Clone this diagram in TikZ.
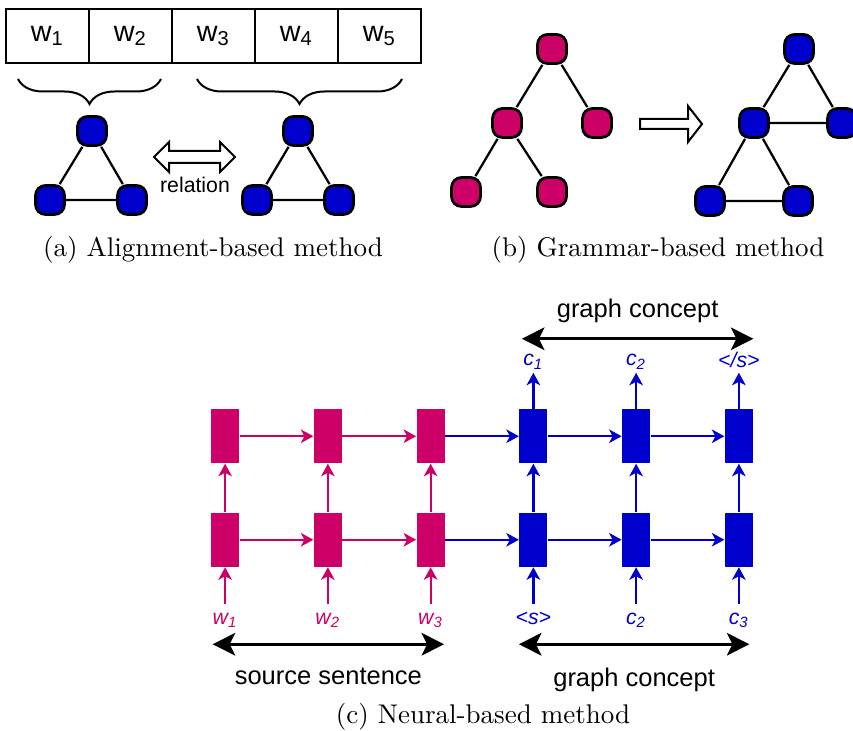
\documentclass[tikz,border=0pt]{standalone}
\usepackage{fontspec}
\newfontfamily\arial{Liberation Sans}
\usetikzlibrary{arrows.meta, positioning, decorations.pathreplacing, calc}
\definecolor{rose}{RGB}{204,0,102}
\definecolor{navy}{RGB}{0,0,204}

\begin{document}
\begin{tikzpicture}[x=0.4pt, y=-0.4pt,
  wbox/.style={rectangle, draw, line width=0.8pt, minimum width=33.2pt, minimum height=21.6pt,
               inner sep=0pt, font=\arial\fontsize{11.5}{12}\selectfont},
  gn/.style={rectangle, rounded corners=4pt, draw, line width=1.1pt, minimum size=11.6pt, inner sep=0pt},
  bn/.style={gn, fill=navy},
  pn/.style={gn, fill=rose},
  gedge/.style={line width=0.9pt},
  brc/.style={decorate, decoration={brace, mirror, amplitude=10pt}, line width=0.8pt},
  hollow/.style={draw, fill=white, line width=0.8pt, line join=miter},
  cell/.style={rectangle, minimum width=11.2pt, minimum height=21.6pt, inner sep=0pt},
  rarr/.style={-{Stealth[length=5pt, width=5.4pt, inset=1.4pt]}, line width=0.9pt},
  spanarr/.style={{Stealth[length=9pt, width=9pt, inset=2.2pt]}-{Stealth[length=9pt, width=9pt, inset=2.2pt]},
               line width=1.2pt},
  lab/.style={font=\arial\itshape\fontsize{8.5}{9}\selectfont, inner sep=0pt},
  txt/.style={font=\arial\fontsize{10.2}{11}\selectfont, inner sep=0pt},
  captext/.style={font=\fontsize{10.8}{13}\selectfont, inner sep=0pt}
]
\useasboundingbox (0,0) rectangle (853,731);

% (a) words, braces and the two small graphs
\matrix[column sep=-0.8pt, nodes={wbox}] (words) at (213.5,36) {
  \node (w1) {w\textsubscript{1}}; & \node (w2) {w\textsubscript{2}}; &
  \node (w3) {w\textsubscript{3}}; & \node (w4) {w\textsubscript{4}}; &
  \node (w5) {w\textsubscript{5}}; \\
};
\draw[brc] ($(w1.south west)+(13,15)$) -- ($(w2.south east)+(-12,15)$);
\draw[brc] ($(w3.south west)+(26,15)$) -- ($(w5.south east)+(-20,15)$);

\node[bn] (ga1) at (92,131) {};
\node[bn] (ga2) at (50,200) {};
\node[bn] (ga3) at (132,200) {};
\node[bn] (ga4) at (298,131) {};
\node[bn] (ga5) at (257,200) {};
\node[bn] (ga6) at (339,200) {};
\draw[gedge] (ga1) -- (ga2) -- (ga3) -- (ga1);
\draw[gedge] (ga4) -- (ga5) -- (ga6) -- (ga4);

\draw[hollow] (154,157) -- (169,142) -- (169,151) -- (220,151) -- (220,142) -- (235,157)
  -- (220,172) -- (220,163) -- (169,163) -- (169,172) -- cycle;
\node[font=\arial\fontsize{8.5}{9}\selectfont, inner sep=0pt] (rel) at (195,185) {relation};
\node[captext] (capa) at (213,250) {(a) Alignment-based method};

% (b) tree turned into a graph
\node[pn] (gp1) at (552,49) {};
\node[pn] (gp2) at (507,123) {};
\node[pn] (gp3) at (597,123) {};
\node[pn] (gp4) at (466,192) {};
\node[pn] (gp5) at (552,192) {};
\draw[gedge] (gp1) -- (gp2) (gp1) -- (gp3) (gp2) -- (gp4) (gp2) -- (gp5);

\draw[hollow] (640,119) -- (688,119) -- (688,106) -- (702,124) -- (688,142) -- (688,129)
  -- (640,129) -- cycle;

\node[bn] (gb1) at (799,49) {};
\node[bn] (gb2) at (754,123) {};
\node[bn] (gb3) at (842,123) {};
\node[bn] (gb4) at (710,201) {};
\node[bn] (gb5) at (798,201) {};
\draw[gedge] (gb1) -- (gb2) -- (gb3) -- (gb1) (gb2) -- (gb4) -- (gb5) -- (gb2);
\node[captext] (capb) at (658,250) {(b) Grammar-based method};

% (c) encoder-decoder
\matrix[row sep=19.8pt, column sep=29.9pt, nodes={cell}] (rnn) at (482,488) {
  \node[fill=rose] (u1) {}; & \node[fill=rose] (u2) {}; & \node[fill=rose] (u3) {}; &
  \node[fill=navy] (u4) {}; & \node[fill=navy] (u5) {}; & \node[fill=navy] (u6) {}; \\
  \node[fill=rose] (l1) {}; & \node[fill=rose] (l2) {}; & \node[fill=rose] (l3) {}; &
  \node[fill=navy] (l4) {}; & \node[fill=navy] (l5) {}; & \node[fill=navy] (l6) {}; \\
};
\foreach \i/\j in {1/2, 2/3} {
  \draw[rarr, rose] (u\i) -- (u\j);
  \draw[rarr, rose] (l\i) -- (l\j);
}
\foreach \i/\j in {3/4, 4/5, 5/6} {
  \draw[rarr, navy] (u\i) -- (u\j);
  \draw[rarr, navy] (l\i) -- (l\j);
}
\foreach \i/\c in {1/rose, 2/rose, 3/rose, 4/navy, 5/navy, 6/navy} {
  \coordinate (in\i) at ($(l\i.south)+(0,37)$);
  \draw[rarr, \c] (in\i) -- (l\i);
  \draw[rarr, \c] (l\i) -- (u\i);
}
\foreach \i in {4,5,6} {
  \coordinate (out\i) at ($(u\i.north)+(0,-36)$);
  \draw[rarr, navy] (u\i) -- (out\i);
}

\node[lab, rose] (x1) at ($(l1.south)+(0,53)$) {w\textsubscript{1}};
\node[lab, rose] (x2) at ($(l2.south)+(0,53)$) {w\textsubscript{2}};
\node[lab, rose] (x3) at ($(l3.south)+(0,53)$) {w\textsubscript{3}};
\node[lab, navy] (x4) at ($(l4.south)+(0,51)$) {<s>};
\node[lab, navy] (x5) at ($(l5.south)+(0,53)$) {c\textsubscript{2}};
\node[lab, navy] (x6) at ($(l6.south)+(0,53)$) {c\textsubscript{3}};
\node[lab, navy] (y4) at ($(u4.north)+(0,-47)$) {c\textsubscript{1}};
\node[lab, navy] (y5) at ($(u5.north)+(0,-47)$) {c\textsubscript{2}};
\node[lab, navy] (y6) at ($(u6.north)+(0,-49)$) {</s>};

\draw[spanarr] ($(u4.north west)+(3,-70)$) -- ($(u6.north east)+(0,-70)$)
  node[midway, above=5.6pt, txt] (top) {graph concept};
\draw[spanarr] ($(l1.south west)+(2,77)$) -- ($(l3.south east)+(-1,77)$)
  node[midway, below=8.8pt, txt] (src) {source sentence};
\draw[spanarr] ($(l4.south west)+(0,77)$) -- ($(l6.south east)+(-4,77)$)
  node[midway, below=8.8pt, txt] (tgt) {graph concept};
\node[captext] (capc) at (483,717) {(c) Neural-based method};
\end{tikzpicture}
\end{document}
